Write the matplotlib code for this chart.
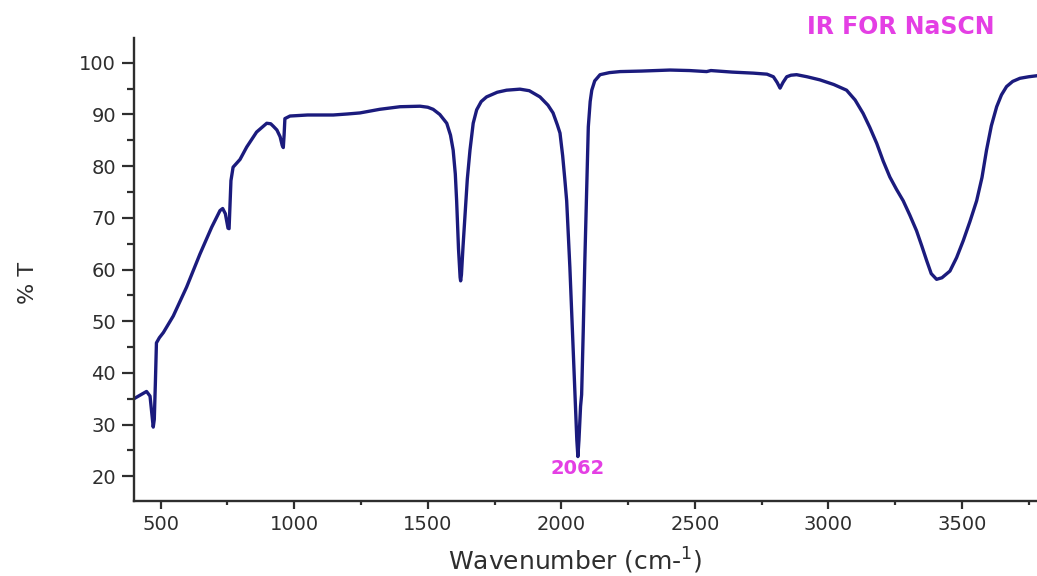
import matplotlib
matplotlib.use("Agg")
import matplotlib.pyplot as plt
from matplotlib.ticker import MultipleLocator

# IR spectrum of sodium thiocyanate: wavenumber (cm^-1) vs transmittance (%)
wavenumber = [
    400, 420, 447, 460, 468, 472, 476, 480, 484, 495, 510, 547, 597, 647, 691,
    722, 732, 742, 752, 756, 760, 763, 771, 797, 822, 859, 897, 912, 922, 935,
    947, 955, 959, 962, 965, 984, 1050, 1146, 1200, 1246, 1320, 1396, 1471,
    1500, 1520, 1545, 1571, 1585, 1595, 1603, 1608, 1615, 1621, 1623, 1626,
    1632, 1639, 1648, 1658, 1670, 1683, 1700, 1720, 1760, 1795, 1845, 1880,
    1920, 1950, 1969, 1985, 1995, 2005, 2013, 2020, 2032, 2042, 2051, 2058,
    2062, 2066, 2072, 2076, 2082, 2088, 2095, 2101, 2108, 2114, 2125, 2145,
    2180, 2220, 2300, 2407, 2480, 2544, 2560, 2640, 2719, 2770, 2794, 2808,
    2819, 2830, 2844, 2860, 2881, 2920, 2968, 3020, 3068, 3100, 3130, 3155,
    3181, 3205, 3230, 3255, 3280, 3305, 3330, 3350, 3368, 3385, 3405, 3425,
    3455, 3480, 3505, 3530, 3555, 3575, 3592, 3610, 3630, 3648, 3667, 3690,
    3717, 3750, 3781,
]
transmittance = [
    35.0, 35.6, 36.4, 35.5, 31.5, 29.5, 31.0, 38.0, 45.8, 46.8, 47.8, 51.0,
    56.6, 63.0, 68.2, 71.4, 71.8, 70.8, 68.0, 67.9, 73.0, 77.2, 79.8, 81.3,
    83.7, 86.6, 88.3, 88.2, 87.7, 87.0, 85.7, 84.0, 83.6, 86.0, 89.2, 89.7,
    89.9, 89.9, 90.1, 90.3, 91.0, 91.5, 91.6, 91.4, 91.0, 90.0, 88.3, 86.0,
    83.1, 78.5, 73.3, 64.0, 58.5, 57.8, 59.0, 64.5, 70.1, 77.5, 83.1, 88.3,
    90.9, 92.5, 93.4, 94.3, 94.7, 94.9, 94.6, 93.4, 91.8, 90.3, 88.0, 86.4,
    82.0, 77.5, 73.3, 60.4, 47.5, 35.8, 27.0, 23.8, 27.0, 33.5, 35.8, 48.0,
    61.7, 76.0, 87.6, 92.5, 94.7, 96.5, 97.7, 98.1, 98.3, 98.4, 98.6, 98.5,
    98.3, 98.5, 98.2, 98.0, 97.8, 97.3, 96.2, 95.1, 96.2, 97.3, 97.6, 97.7,
    97.3, 96.7, 95.8, 94.7, 92.8, 90.2, 87.5, 84.4, 81.0, 77.9, 75.5, 73.3,
    70.5, 67.5, 64.5, 61.7, 59.2, 58.1, 58.4, 59.7, 62.3, 65.6, 69.3, 73.3,
    77.8, 83.1, 87.8, 91.5, 93.8, 95.4, 96.4, 97.0, 97.3, 97.5,
]

x_ticks = [500, 1000, 1500, 2000, 2500, 3000, 3500]
y_ticks = [20, 30, 40, 50, 60, 70, 80, 90, 100]
peak_position = 2062
peak_label = "2062"
title_text = "IR FOR NaSCN"

plt.rcParams["font.family"] = ["DejaVu Sans"]
plt.rcParams["mathtext.default"] = "regular"

text_grey = "#2e2e2e"
magenta = "#e43fe4"
line_color = "#1b1b7d"

fig = plt.figure(figsize=(10.37, 5.76), dpi=100)
ax = fig.add_axes([134 / 1037, 75 / 576, 903 / 1037, 463 / 576])

ax.plot(wavenumber, transmittance, color=line_color, lw=2.4,
        solid_joinstyle="round", solid_capstyle="round")

ax.set_xlim(400, 3781)
ax.set_ylim(15.2, 104.8)
ax.set_xticks(x_ticks)
ax.set_yticks(y_ticks)
ax.xaxis.set_minor_locator(MultipleLocator(250))
ax.yaxis.set_minor_locator(MultipleLocator(5))

for side in ("top", "right"):
    ax.spines[side].set_visible(False)
for side in ("left", "bottom"):
    ax.spines[side].set_color(text_grey)
    ax.spines[side].set_linewidth(1.7)

ax.tick_params(axis="both", which="both", direction="out", color=text_grey,
               width=1.6, labelcolor=text_grey, labelsize=14)
ax.tick_params(axis="y", which="major", length=9, pad=4)
ax.tick_params(axis="y", which="minor", length=5)
ax.tick_params(axis="x", which="major", length=6, pad=4)
ax.tick_params(axis="x", which="minor", length=3)

ax.set_xlabel("Wavenumber (cm-$^{1}$)", fontsize=18, color=text_grey,
              va="center")
ax.xaxis.set_label_coords(0.488, -0.13)
ax.set_ylabel("% T", fontsize=16, color=text_grey, va="center")
ax.yaxis.set_label_coords(-0.117, 0.47)

ax.text(peak_position, 21.5, peak_label, color=magenta, fontsize=14,
        fontweight="bold", ha="center", va="center")
fig.text(0.869, 0.953, title_text, color=magenta, fontsize=17,
         fontweight="bold", ha="center", va="center")

fig.savefig("out.png", dpi=100)
